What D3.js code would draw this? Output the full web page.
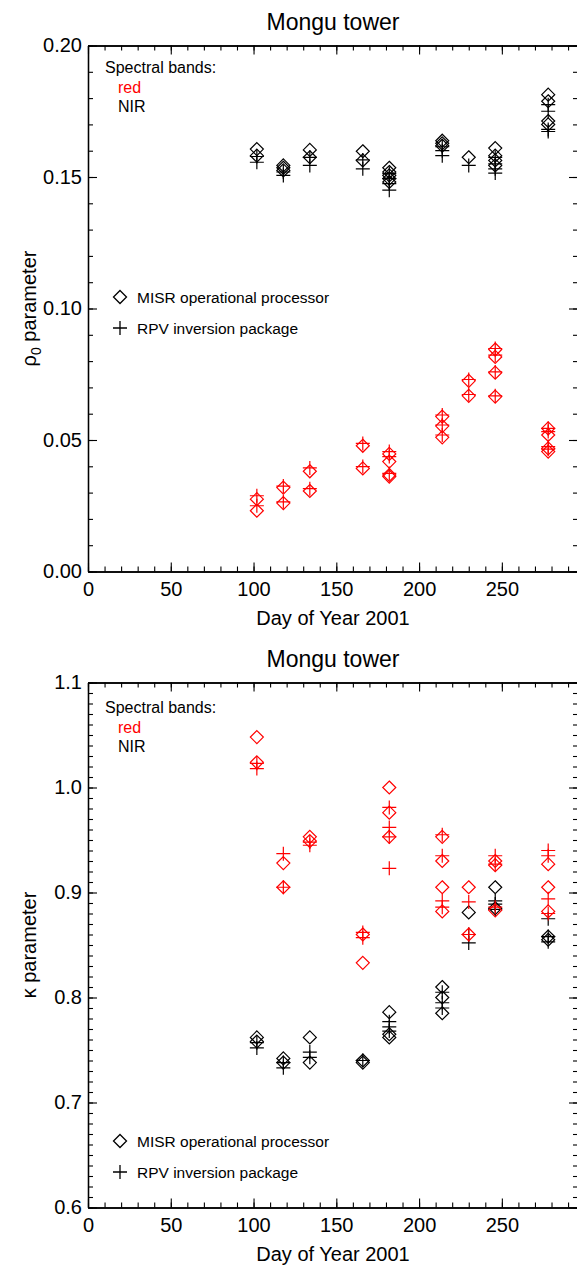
<!DOCTYPE html>
<html><head><meta charset="utf-8">
<script src="https://cdn.jsdelivr.net/npm/d3@7"></script>
<style>body{margin:0;background:#fff}svg{display:block}</style>
</head><body>
<svg id="c" width="577" height="1269"></svg>
<script>
// ---- data ----
const days = [102,118,134,166,182,214,230,246,278];
const xTicksMajor = [0,50,100,150,200,250];
const rhoTicks = [0.00,0.05,0.10,0.15,0.20];
const kappaTicks = [0.6,0.7,0.8,0.9,1.0,1.1];

// rho0 panel (values per day, aligned with days)
const rhoRedMISR = [[0.0275,0.0231],[0.0319,0.026],[0.0381,0.0306],[0.0478,0.0392],[0.0447,0.0418,0.0367,0.0361],[0.0589,0.0553,0.0510],[0.0725,0.0668],[0.0844,0.0816,0.0756,0.0665],[0.0544,0.0519,0.0468,0.0456]];
const rhoRedRPV  = [[0.0288,0.025],[0.0325,0.0265],[0.0394,0.0315],[0.0487,0.0399],[0.0456,0.0437,0.0373],[0.0595,0.0557,0.0519],[0.073,0.0673],[0.0848,0.0823,0.0759,0.0668],[0.0544,0.0532,0.0475,0.0465]];
const rhoNirMISR = [[0.1606,0.1581],[0.1544,0.1535,0.1525],[0.1603,0.1575],[0.1598,0.1563],[0.1535,0.1519,0.1506,0.1494,0.1481],[0.1638,0.1628,0.1619],[0.1575],[0.1610,0.1581,0.1563,0.1544],[0.1813,0.1788,0.1713,0.170]];
const rhoNirRPV  = [[0.1578,0.1556],[0.1519,0.1506],[0.1575,0.1544],[0.1565,0.1531],[0.1513,0.1494,0.1475,0.145],[0.1615,0.160,0.1581],[0.1544],[0.1575,0.155,0.1531,0.1515],[0.1775,0.175,0.1681,0.1673]];

// kappa panel
const kRedMISR = [[1.048,1.024],[0.928,0.905],[0.953,0.949],[0.860,0.833],[1.000,0.976,0.953],[0.953,0.930,0.905,0.882],[0.905,0.860],[0.930,0.926,0.883],[0.927,0.905,0.882]];
const kRedRPV  = [[1.023,1.018],[0.937,0.905],[0.948,0.945],[0.862,0.857],[0.981,0.962,0.953,0.923],[0.955,0.935,0.892,0.886],[0.891,0.860],[0.935,0.927,0.886],[0.940,0.935,0.894,0.880]];
const kNirMISR = [[0.762,0.758],[0.742,0.738],[0.762,0.738],[0.740,0.738],[0.786,0.765,0.762],[0.810,0.800,0.785],[0.881],[0.905,0.885],[0.858,0.855]];
const kNirRPV  = [[0.757,0.752],[0.738,0.733],[0.748,0.743],[0.740],[0.777,0.772,0.768],[0.805,0.795,0.790],[0.860,0.852],[0.892,0.889,0.884],[0.875,0.858,0.853]];

// ---- drawing ----
const FONT = "'Liberation Sans', Arial, Helvetica, sans-serif";
const svg = d3.select("#c");
const diamondPath = "M0,-6.5L6.5,0L0,6.5L-6.5,0Z";
const plusPath = "M-7,0H7M0,-7V7";

function flatten(arr){ const out=[]; arr.forEach((vals,i)=>vals.forEach(v=>out.push([days[i],v]))); return out; }

function panel(cfg){
  const x = d3.scaleLinear().domain([0,296]).range([88,578]);
  const y = d3.scaleLinear().domain(cfg.ydom).range([cfg.bottom,cfg.top]);
  const g = svg.append("g").attr("font-family",FONT);
  const minorX = d3.range(0,297,10);
  const minorY = d3.range(cfg.ydom[0], cfg.ydom[1]+cfg.minor/2, cfg.minor);

  function styleAxis(sel){ sel.select(".domain").attr("stroke","#000").attr("stroke-width",1.3); sel.selectAll("line").attr("stroke","#000").attr("stroke-width",1.1); }

  // bottom
  g.append("g").attr("transform",`translate(0,${cfg.bottom})`).call(d3.axisBottom(x).tickValues(minorX).tickSize(-5).tickSizeOuter(0).tickFormat("")).call(styleAxis);
  g.append("g").attr("transform",`translate(0,${cfg.bottom})`).call(d3.axisBottom(x).tickValues(xTicksMajor).tickSize(-9).tickSizeOuter(0).tickPadding(10).tickFormat(d3.format("d"))).call(styleAxis)
    .selectAll("text").attr("font-size",20).attr("fill","#000").attr("font-family",FONT);
  // top
  g.append("g").attr("transform",`translate(0,${cfg.top})`).call(d3.axisTop(x).tickValues(minorX).tickSize(-5).tickSizeOuter(0).tickFormat("")).call(styleAxis);
  g.append("g").attr("transform",`translate(0,${cfg.top})`).call(d3.axisTop(x).tickValues(xTicksMajor).tickSize(-9).tickSizeOuter(0).tickFormat("")).call(styleAxis);
  // left
  g.append("g").attr("transform",`translate(88,0)`).call(d3.axisLeft(y).tickValues(minorY).tickSize(-5).tickSizeOuter(0).tickFormat("")).call(styleAxis);
  g.append("g").attr("transform",`translate(88,0)`).call(d3.axisLeft(y).tickValues(cfg.ticks).tickSize(-9).tickSizeOuter(0).tickPadding(6).tickFormat(d3.format(cfg.fmt))).call(styleAxis)
    .selectAll("text").attr("font-size",20).attr("fill","#000").attr("font-family",FONT);
  // right
  g.append("g").attr("transform",`translate(578,0)`).call(d3.axisRight(y).tickValues(minorY).tickSize(-5).tickSizeOuter(0).tickFormat("")).call(styleAxis);
  g.append("g").attr("transform",`translate(578,0)`).call(d3.axisRight(y).tickValues(cfg.ticks).tickSize(-9).tickSizeOuter(0).tickFormat("")).call(styleAxis);

  // title
  g.append("text").attr("x",333).attr("y",cfg.top-16).attr("text-anchor","middle").attr("font-size",23).text("Mongu tower");
  // x title
  g.append("text").attr("x",333).attr("y",cfg.bottom+53).attr("text-anchor","middle").attr("font-size",20).text("Day of Year 2001");
  // y title
  const yt = g.append("text").attr("transform",`translate(36,${(cfg.top+cfg.bottom)/2}) rotate(-90)`).attr("text-anchor","middle").attr("font-size",20);
  cfg.ytitle(yt);

  // band legend
  g.append("text").attr("x",105).attr("y",cfg.top+cfg.legTop).attr("font-size",16).text("Spectral bands:");
  g.append("text").attr("x",118).attr("y",cfg.top+cfg.legTop+20).attr("font-size",16).attr("fill","#ff0000").text("red");
  g.append("text").attr("x",118).attr("y",cfg.top+cfg.legTop+39).attr("font-size",16).text("NIR");

  // symbol legend
  g.append("path").attr("d",diamondPath).attr("transform",`translate(120,${cfg.symY})`).attr("fill","none").attr("stroke","#000").attr("stroke-width",1.3);
  g.append("text").attr("x",137).attr("y",cfg.symY+5.5).attr("font-size",15.5).text("MISR operational processor");
  g.append("path").attr("d",plusPath).attr("transform",`translate(120,${cfg.symY+31})`).attr("fill","none").attr("stroke","#000").attr("stroke-width",1.3);
  g.append("text").attr("x",137).attr("y",cfg.symY+31+5.5).attr("font-size",15.5).text("RPV inversion package");

  // data
  const series = [
    {d:cfg.nirMISR,p:diamondPath,c:"#000"},
    {d:cfg.nirRPV,p:plusPath,c:"#000"},
    {d:cfg.redMISR,p:diamondPath,c:"#ff0000"},
    {d:cfg.redRPV,p:plusPath,c:"#ff0000"}
  ];
  series.forEach(s=>{
    g.append("g").selectAll("path").data(flatten(s.d)).join("path")
      .attr("d",s.p).attr("transform",d=>`translate(${x(d[0])},${y(d[1])})`)
      .attr("fill","none").attr("stroke",s.c).attr("stroke-width",1.2);
  });
}

panel({ydom:[0,0.20], top:45.5, bottom:571.5, ticks:rhoTicks, minor:0.01, fmt:".2f",
  redMISR:rhoRedMISR, redRPV:rhoRedRPV, nirMISR:rhoNirMISR, nirRPV:rhoNirRPV,
  legTop:27, symY:297,
  ytitle: t=>{ t.append("tspan").text("ρ"); t.append("tspan").attr("font-size",14).attr("dy",5).text("0"); t.append("tspan").attr("dy",-5).text(" parameter"); }});

panel({ydom:[0.6,1.1], top:682.5, bottom:1207.5, ticks:kappaTicks, minor:0.01, fmt:".1f",
  redMISR:kRedMISR, redRPV:kRedRPV, nirMISR:kNirMISR, nirRPV:kNirRPV,
  legTop:30, symY:1141,
  ytitle: t=>{ t.text("κ parameter"); }});
</script>
</body></html>
